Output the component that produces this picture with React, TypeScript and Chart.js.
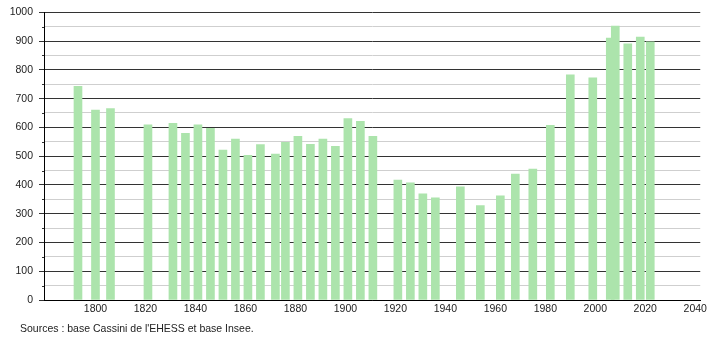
import React, { useEffect, useRef } from "react";
import { Chart, registerables } from "chart.js";

Chart.register(...registerables);

const years = [
  1793, 1800, 1806, 1821, 1831, 1836, 1841, 1846, 1851, 1856, 1861, 1866, 1872,
  1876, 1881, 1886, 1891, 1896, 1901, 1906, 1911, 1921, 1926, 1931, 1936, 1946,
  1954, 1962, 1968, 1975, 1982, 1990, 1999, 2006, 2008, 2013, 2018, 2022,
];
const population = [
  743, 660, 665, 609, 614, 579, 609, 597, 521, 559, 503, 540, 507,
  548, 569, 541, 559, 534, 631, 621, 569, 417, 407, 369, 355, 393,
  328, 362, 438, 455, 607, 783, 772, 910, 952, 890, 914, 897,
];
const xTickLabels = [1800, 1820, 1840, 1860, 1880, 1900, 1920, 1940, 1960, 1980, 2000, 2020, 2040];
const yMin = 0;
const yMax = 1000;
const yStep = 50;
const sourceText = "Sources : base Cassini de l'EHESS et base Insee.";

const FONT = "'Liberation Sans', Arial, sans-serif";
const BAR_COLOR = "rgb(172, 228, 172)";

const minorTicksPlugin = {
  id: "minorTicks",
  afterDraw(chart: any) {
    const y = chart.scales.y;
    const ctx = chart.ctx;
    const left = chart.chartArea.left;
    ctx.save();
    ctx.strokeStyle = "#333";
    ctx.lineWidth = 1;
    for (let v = yMin; v <= yMax; v += yStep) {
      if (v % 100 === 0) continue;
      const py = Math.round(y.getPixelForValue(v)) + 0.5;
      ctx.beginPath();
      ctx.moveTo(left - 2, py);
      ctx.lineTo(left, py);
      ctx.stroke();
    }
    ctx.restore();
  },
};

export default function App() {
  const ref = useRef<HTMLCanvasElement | null>(null);

  useEffect(() => {
    if (!ref.current) return;
    const chart = new Chart(ref.current, {
      type: "bar",
      data: {
        datasets: [
          {
            data: years.map((yr, i) => ({ x: yr, y: population[i] })),
            backgroundColor: BAR_COLOR,
            borderWidth: 0,
            barThickness: 8,
          },
        ],
      },
      plugins: [minorTicksPlugin],
      options: {
        animation: false,
        responsive: false,
        maintainAspectRatio: false,
        layout: { padding: { left: 0, right: 9, top: 10, bottom: 0 } },
        plugins: {
          legend: { display: false },
          tooltip: { enabled: false },
          title: { display: false },
        },
        scales: {
          x: {
            type: "linear",
            min: 1779.4,
            max: 2042,
            offset: false,
            afterBuildTicks: (scale: any) => {
              scale.ticks = xTickLabels.map((v) => ({ value: v }));
            },
            afterFit: (scale: any) => {
              scale.height = 40;
            },
            grid: { display: false, drawTicks: false },
            border: { display: true, color: "#000", width: 1 },
            ticks: {
              padding: 3,
              color: "#222",
              font: { family: FONT, size: 10.5 },
              maxRotation: 0,
              autoSkip: false,
              callback: (v: any) => String(v),
            },
          },
          y: {
            type: "linear",
            min: yMin,
            max: yMax,
            afterFit: (scale: any) => {
              scale.width = 44;
            },
            grid: {
              color: (ctx: any) => (ctx.tick && ctx.tick.value % 100 === 0 ? "#333" : "#cfcfcf"),
              tickColor: (ctx: any) =>
                ctx.tick && ctx.tick.value % 100 === 0 ? "#333" : "rgba(0,0,0,0)",
              tickLength: 5,
              lineWidth: 1,
            },
            border: { display: true, color: "#000", width: 1 },
            ticks: {
              stepSize: yStep,
              padding: 6,
              color: "#222",
              font: { family: FONT, size: 10.5 },
              autoSkip: false,
              callback: (v: any) => (Number(v) % 100 === 0 ? String(v) : ""),
            },
          },
        },
      },
    });
    return () => chart.destroy();
  }, []);

  return (
    <div style={{ position: "absolute", left: 0, top: 0, width: 710, height: 340, background: "#fff" }}>
      <canvas ref={ref} width={710} height={340} style={{ display: "block", width: 710, height: 340 }} />
      <div
        style={{
          position: "absolute",
          left: 20,
          top: 322,
          fontFamily: FONT,
          fontSize: 10.5,
          lineHeight: "13px",
          color: "#222",
          whiteSpace: "nowrap",
        }}
      >
        {sourceText}
      </div>
    </div>
  );
}
